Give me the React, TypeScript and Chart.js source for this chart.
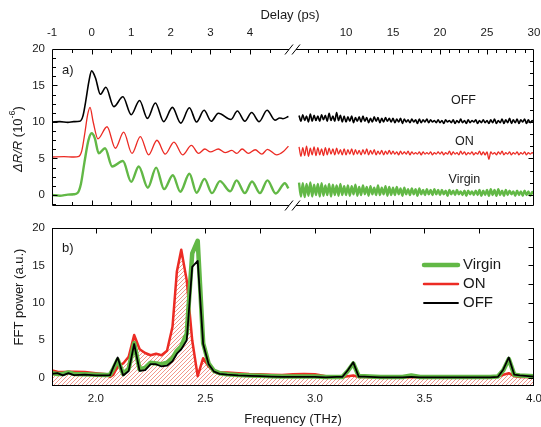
import React, { useEffect, useRef } from "react";
import { Chart, registerables } from "chart.js";

Chart.register(...registerables);

const FONT = '"Liberation Sans", Arial, Helvetica, sans-serif';
const TEXT = "#1a1a1a";
const GREEN = "#62b846";
const RED = "#ec2b24";
const BLACK = "#000000";

// ---------------- Panel a: ΔR/R (10^-6) vs delay (ps) ----------------
// short-delay part (extrema)
const OFF_DELAY = [-1.0, -0.8, -0.6, -0.45, -0.3, -0.22, -0.15, -0.07, 0.0, 0.1, 0.22, 0.36, 0.56, 0.79, 1.0, 1.21, 1.41, 1.61, 1.82, 2.04, 2.25, 2.47, 2.65, 2.84, 3.02, 3.2, 3.52, 3.68, 3.87, 4.04, 4.23, 4.43, 4.63, 4.75, 4.83, 4.97];
const OFF_SIGNAL = [10.0, 10.05, 9.95, 10.05, 10.1, 10.8, 12.8, 15.5, 17.0, 16.0, 13.8, 14.75, 12.1, 13.45, 11.0, 12.95, 10.5, 12.6, 10.05, 12.0, 9.85, 11.95, 10.0, 11.6, 10.1, 11.2, 10.35, 11.5, 10.1, 11.3, 10.05, 11.6, 10.25, 10.55, 10.45, 10.75];

const ON_DELAY = [-1.0, -0.7, -0.45, -0.32, -0.25, -0.17, -0.1, -0.04, 0.04, 0.16, 0.39, 0.6, 0.81, 1.02, 1.23, 1.44, 1.65, 1.86, 2.08, 2.3, 2.52, 2.7, 2.86, 3.0, 3.2, 3.37, 3.54, 3.67, 3.8, 3.96, 4.13, 4.3, 4.44, 4.67, 4.85, 4.97];
const ON_SIGNAL = [5.2, 5.25, 5.2, 5.3, 6.0, 8.5, 11.0, 12.0, 10.0, 7.7, 9.35, 6.4, 8.6, 5.7, 8.0, 5.5, 7.5, 5.6, 7.25, 5.5, 6.8, 5.7, 6.3, 5.9, 6.3, 5.8, 6.1, 5.7, 6.3, 5.7, 6.2, 5.6, 6.25, 5.5, 6.0, 6.7];

const VIRGIN_DELAY = [-1.0, -0.8, -0.6, -0.45, -0.35, -0.27, -0.18, -0.08, 0.0, 0.08, 0.18, 0.34, 0.52, 0.79, 1.0, 1.19, 1.42, 1.63, 1.83, 2.05, 2.24, 2.47, 2.65, 2.85, 3.04, 3.24, 3.5, 3.66, 3.87, 4.05, 4.25, 4.44, 4.65, 4.88, 4.97];
const VIRGIN_SIGNAL = [0.0, -0.1, 0.05, 0.1, 0.3, 1.5, 4.5, 7.5, 8.45, 7.8, 5.7, 6.4, 3.9, 4.65, 1.8, 3.9, 1.0, 3.75, 0.8, 2.7, 0.45, 2.9, 0.3, 2.2, 0.25, 1.9, 0.5, 2.0, 0.25, 1.85, 0.25, 2.0, 0.2, 1.6, 0.9];

// long-delay part: samples every 0.2 ps from 5 ps to 30 ps
const LONG_START = 5.0;
const LONG_STEP = 0.2;
const OFF_LONG = [
  10.9, 10.1, 11.0, 10.2, 10.8, 10.0, 11.1, 10.1, 10.9, 10.2, 10.8, 10.1, 11.0, 10.3, 10.9, 10.1, 11.2, 10.2, 10.8, 10.1, 11.3, 10.2, 10.9, 10.0, 10.8,
  10.0, 10.7, 10.1, 10.8, 9.9, 10.6, 10.1, 10.7, 10.0, 10.8, 10.1, 10.6, 9.9, 10.5, 10.0, 10.7, 10.1, 10.6, 9.9, 10.5, 10.0, 10.6, 10.1, 10.5, 10.0,
  10.5, 9.9, 10.4, 10.0, 10.5, 9.8, 10.4, 10.0, 10.3, 9.9, 10.4, 10.0, 10.3, 9.8, 10.4, 9.9, 10.3, 10.0, 10.4, 9.9, 10.3, 10.0, 10.2, 9.9, 10.3,
  9.9, 10.2, 9.8, 10.3, 10.0, 10.2, 9.9, 10.3, 9.8, 10.2, 9.9, 10.4, 9.9, 10.2, 9.8, 10.3, 9.9, 10.2, 10.0, 10.3, 9.8, 10.2, 9.9, 10.3, 9.9,
  10.2, 9.8, 10.3, 9.9, 10.4, 9.8, 10.2, 9.9, 10.4, 9.8, 10.3, 9.9, 10.5, 9.8, 10.3, 9.9, 10.4, 9.8, 10.3, 10.0, 10.4, 9.8, 10.3, 9.9, 10.2, 9.9,
];
const ON_LONG = [
  6.6, 5.3, 6.5, 5.4, 6.7, 5.3, 6.4, 5.5, 6.6, 5.4, 6.5, 5.5, 6.3, 5.4, 6.5, 5.5, 6.4, 5.6, 6.3, 5.5, 6.4, 5.6, 6.2, 5.5, 6.3,
  5.5, 6.2, 5.6, 6.3, 5.5, 6.2, 5.6, 6.1, 5.5, 6.2, 5.6, 6.3, 5.5, 6.1, 5.6, 6.2, 5.5, 6.0, 5.6, 6.1, 5.5, 6.0, 5.6, 6.1, 5.6,
  6.0, 5.6, 5.9, 5.5, 6.0, 5.6, 5.9, 5.6, 6.0, 5.5, 5.9, 5.6, 5.8, 5.6, 5.9, 5.5, 5.9, 5.6, 5.8, 5.6, 5.9, 5.5, 5.8, 5.6, 5.9,
  5.6, 5.9, 5.5, 5.8, 5.6, 6.0, 5.5, 5.9, 5.6, 5.8, 5.5, 6.0, 5.6, 5.9, 5.5, 5.8, 5.6, 5.9, 5.5, 5.8, 5.6, 6.0, 5.5, 5.9, 5.5,
  5.9, 4.9, 5.9, 5.6, 5.8, 5.5, 5.9, 5.6, 6.0, 5.5, 5.8, 5.6, 5.9, 5.5, 5.8, 5.6, 5.9, 5.5, 5.8, 5.6, 5.9, 5.5, 5.8, 5.6, 5.8, 5.6,
];
const VIRGIN_LONG = [
  1.7, -0.2, 1.6, -0.3, 1.5, -0.1, 1.7, -0.2, 1.4, 0.0, 1.5, -0.2, 1.6, -0.1, 1.3, 0.0, 1.5, -0.2, 1.4, 0.0, 1.3, -0.1, 1.5, 0.0, 1.2,
  0.0, 1.3, -0.1, 1.2, 0.1, 1.4, -0.1, 1.1, 0.0, 1.3, 0.1, 1.1, -0.1, 1.2, 0.1, 1.0, 0.0, 1.3, 0.0, 1.0, 0.1, 1.2, -0.1, 1.1, 0.0,
  1.0, 0.0, 1.1, 0.1, 0.9, -0.1, 1.0, 0.1, 0.8, 0.0, 0.9, 0.1, 0.8, -0.1, 0.9, 0.1, 0.7, 0.0, 0.8, 0.1, 0.7, 0.0, 0.8, 0.1, 0.7,
  0.0, 0.7, 0.1, 0.6, -0.1, 0.7, 0.1, 0.6, 0.0, 0.7, 0.1, 0.5, 0.0, 0.6, -0.1, 0.6, 0.1, 0.5, 0.0, 0.6, 0.0, 0.7, -0.1, 0.6, 0.0,
  0.7, -0.1, 0.8, 0.0, 0.7, -0.1, 0.8, 0.0, 0.6, -0.1, 0.7, 0.0, 0.6, 0.1, 0.5, -0.1, 0.6, 0.0, 0.5, -0.1, 0.6, 0.0, 0.5, -0.1, 0.4, 0.1,
];

const A_Y_TICKS = [0, 5, 10, 15, 20];
const A_NEAR_TICKS = [-1, 0, 1, 2, 3, 4];
const A_FAR_TICKS = [10, 15, 20, 25, 30];
const A_CURVE_LABELS = [
  { text: "OFF", t: 22.5, y: 13.0 },
  { text: "ON", t: 22.6, y: 7.3 },
  { text: "Virgin", t: 22.6, y: 2.1 },
];

// ---------------- Panel b: FFT power vs frequency ----------------
const FREQ = [1.8, 1.825, 1.85, 1.875, 1.9, 1.95, 2.0, 2.05, 2.065, 2.08,
  2.1, 2.125, 2.15, 2.175, 2.2, 2.225, 2.25, 2.275, 2.3, 2.325,
  2.35, 2.37, 2.39, 2.415, 2.44, 2.465, 2.49, 2.515, 2.54, 2.565,
  2.6, 2.65, 2.7, 2.75, 2.8, 2.85, 2.9, 2.95, 3.0, 3.05,
  3.1, 3.125, 3.15, 3.175, 3.2, 3.225, 3.3, 3.4, 3.44, 3.48,
  3.6, 3.7, 3.8, 3.835, 3.86, 3.885, 3.91, 3.935, 4.0];
const OFF_FFT = [0.5, 0.6, 0.3, 0.6, 0.35, 0.4, 0.3, 0.3, 0.35, 1.4,
  2.7, 0.3, 0.9, 4.5, 0.9, 1.0, 1.8, 1.8, 1.5, 1.6,
  2.2, 3.2, 3.8, 5.0, 14.8, 15.6, 4.5, 1.8, 0.8, 0.5,
  0.4, 0.3, 0.25, 0.2, 0.15, 0.1, 0.1, 0.1, 0.1, 0.05,
  0.1, 0.1, 1.0, 2.05, 0.15, 0.15, 0.05, 0.05, 0.1, 0.05,
  0.05, 0.05, 0.05, 0.1, 1.1, 2.7, 0.4, 0.3, 0.15];
const VIRGIN_FFT = [0.6, 0.5, 0.5, 0.7, 0.5, 0.45, 0.4, 0.35, 0.4, 1.2,
  2.4, 0.5, 1.2, 4.6, 1.1, 1.3, 2.0, 1.9, 1.8, 2.0,
  2.6, 3.6, 4.2, 5.9, 16.6, 18.3, 4.6, 1.9, 0.9, 0.6,
  0.45, 0.35, 0.3, 0.25, 0.2, 0.15, 0.15, 0.15, 0.15, 0.1,
  0.1, 0.1, 0.9, 1.9, 0.2, 0.2, 0.1, 0.1, 0.3, 0.1,
  0.1, 0.1, 0.1, 0.15, 1.0, 2.5, 0.4, 0.3, 0.2];
const ON_FFT = [0.95, 0.8, 0.75, 0.8, 0.8, 0.75, 0.6, 0.45, 0.1, 0.4,
  1.5, 1.9, 2.8, 5.7, 3.8, 3.3, 3.0, 3.2, 3.0, 3.6,
  6.8, 14.2, 17.1, 13.0, 5.0, 0.2, 2.6, 1.5, 0.8, 0.7,
  0.7, 0.6, 0.5, 0.45, 0.4, 0.35, 0.45, 0.5, 0.45, 0.2,
  0.1, 0.1, 0.2, 0.3, 0.1, 0.1, 0.05, 0.05, 0.05, 0.05,
  0.05, 0.05, 0.05, 0.15, 0.4, 0.6, 0.2, 0.1, 0.05];
const B_X_TICKS = [2.0, 2.5, 3.0, 3.5, 4.0];
const B_Y_TICKS = [0, 5, 10, 15, 20];
const LEGEND_ORDER = ["Virgin", "ON", "OFF"];

// ---------------- broken delay axis (virtual coordinate) ----------------
const U_MIN = -1;
const U_MAX = 11.17;
const U_AT_10PS = 6.424;
const FAR_SCALE = (U_MAX - U_AT_10PS) / 20;
const BREAK_U = 5.06;
const nearU = (t: number) => t;
const farU = (t: number) => U_AT_10PS + (t - 10) * FAR_SCALE;

function buildDelaySeries(delay: number[], signal: number[], long: number[]) {
  const pts: { x: number; y: number | null }[] = delay.map((t, i) => ({ x: nearU(t), y: signal[i] }));
  pts.push({ x: BREAK_U, y: null });
  long.forEach((v, i) => pts.push({ x: farU(LONG_START + i * LONG_STEP), y: v }));
  return pts;
}

function seg(ctx: CanvasRenderingContext2D, x1: number, y1: number, x2: number, y2: number) {
  ctx.beginPath();
  ctx.moveTo(x1, y1);
  ctx.lineTo(x2, y2);
  ctx.stroke();
}

function text(ctx: CanvasRenderingContext2D, s: string, x: number, y: number, size: number, align: CanvasTextAlign = "center", style = "") {
  ctx.font = `${style} ${size}px ${FONT}`.trim();
  ctx.fillStyle = TEXT;
  ctx.textAlign = align;
  ctx.textBaseline = "middle";
  ctx.fillText(s, x, y);
}

const panelAPlugin = {
  id: "panelA",
  afterDatasetsDraw(chart: any) {
    const { ctx, chartArea: a, scales } = chart;
    const xs = scales.x, ys = scales.y;
    const L = Math.round(a.left) + 0.5, R = Math.round(a.right) - 0.5;
    const T = Math.round(a.top) + 0.5, B = Math.round(a.bottom) - 0.5;
    ctx.save();
    ctx.strokeStyle = "#000";
    ctx.lineWidth = 1;
    const bx = xs.getPixelForValue(BREAK_U);
    const g1 = bx - 3, g2 = bx + 4;
    seg(ctx, L, T, L, B);
    seg(ctx, R, T, R, B);
    for (const y of [T, B]) {
      seg(ctx, L, y, g1, y);
      seg(ctx, g2, y, R, y);
      seg(ctx, g1 - 4, y + 5, g1 + 4, y - 5);
      seg(ctx, g2 - 4, y + 5, g2 + 4, y - 5);
    }
    const xt: { px: number; major: boolean }[] = [];
    for (let v = -0.5; v <= 4.51; v += 0.5) xt.push({ px: xs.getPixelForValue(nearU(v)), major: Math.abs(v - Math.round(v)) < 1e-6 });
    for (let v = 6; v < 30; v += 1) xt.push({ px: xs.getPixelForValue(farU(v)), major: v % 5 === 0 });
    for (const t of xt) {
      const x = Math.round(t.px) + 0.5;
      const len = t.major ? 5 : 3.5;
      seg(ctx, x, T, x, T + len);
      seg(ctx, x, B, x, B - len);
    }
    for (let k = -1; k <= 15; k++) {
      const v = k * 1.25;
      const y = Math.round(ys.getPixelForValue(v)) + 0.5;
      if (y <= T + 0.1 || y >= B - 0.1) continue;
      seg(ctx, L, y, L + (v % 5 === 0 ? 5 : 3.5), y);
    }
    for (let k = 1; k <= 12; k++) {
      const v = 20 - (k * 5) / 3;
      const y = Math.round(ys.getPixelForValue(v)) + 0.5;
      const major = Math.abs(v / 5 - Math.round(v / 5)) < 1e-6;
      seg(ctx, R, y, R - (major ? 5 : 3.5), y);
    }
    for (const v of A_NEAR_TICKS) text(ctx, String(v), xs.getPixelForValue(nearU(v)), 33, 11.5);
    for (const v of A_FAR_TICKS) text(ctx, String(v), xs.getPixelForValue(farU(v)), 33, 11.5);
    for (const v of A_Y_TICKS) text(ctx, String(v), 45, ys.getPixelForValue(v), 11.5, "right");
    text(ctx, "Delay (ps)", 290, 15, 13);
    text(ctx, "a)", 62, 70, 13, "left");
    for (const lb of A_CURVE_LABELS) text(ctx, lb.text, xs.getPixelForValue(farU(lb.t)), ys.getPixelForValue(lb.y), 12.5);
    ctx.translate(18, 139);
    ctx.rotate(-Math.PI / 2);
    const parts = [
      { s: "\u0394R/R", f: `italic 13px ${FONT}`, dy: 0 },
      { s: " (10", f: `13px ${FONT}`, dy: 0 },
      { s: "-6", f: `9px ${FONT}`, dy: -5 },
      { s: ")", f: `13px ${FONT}`, dy: 0 },
    ];
    let w = 0;
    for (const p of parts) { ctx.font = p.f; w += ctx.measureText(p.s).width; }
    let x = -w / 2;
    ctx.fillStyle = TEXT;
    ctx.textAlign = "left";
    ctx.textBaseline = "middle";
    for (const p of parts) { ctx.font = p.f; ctx.fillText(p.s, x, p.dy); x += ctx.measureText(p.s).width; }
    ctx.restore();
  },
};

const panelBPlugin = {
  id: "panelB",
  afterDatasetsDraw(chart: any) {
    const { ctx, chartArea: a, scales } = chart;
    const xs = scales.x, ys = scales.y;
    const L = Math.round(a.left) + 0.5, R = Math.round(a.right) - 0.5;
    const T = Math.round(a.top) + 0.5, B = Math.round(a.bottom) - 0.5;
    ctx.save();
    ctx.strokeStyle = "#000";
    ctx.lineWidth = 1;
    ctx.strokeRect(L, T, R - L, B - T);
    for (let k = 0; k < 8; k++) {
      const x = Math.round(xs.getPixelForValue(2.0 + k * 0.25)) + 0.5;
      seg(ctx, x, T, x, T + 5);
    }
    for (let k = 0; k < 8; k++) {
      const y = Math.round(ys.getPixelForValue(k * 2.5)) + 0.5;
      seg(ctx, R, y, R - 5, y);
    }
    for (const v of B_X_TICKS) text(ctx, v.toFixed(1), xs.getPixelForValue(v), 184, 11.5);
    for (const v of B_Y_TICKS) text(ctx, String(v), 45, ys.getPixelForValue(v), 11.5, "right");
    text(ctx, "Frequency (THz)", 293, 204, 13);
    text(ctx, "b)", 62, 33, 13, "left");
    const rows = [50, 69, 88];
    LEGEND_ORDER.forEach((name, i) => {
      const ds = chart.data.datasets.find((d: any) => d.label === name);
      ctx.strokeStyle = ds.borderColor;
      ctx.lineWidth = ds.borderWidth;
      ctx.lineCap = "round";
      seg(ctx, 424, rows[i], 458, rows[i]);
      text(ctx, name, 463, rows[i], 15, "left");
    });
    ctx.translate(19, 82);
    ctx.rotate(-Math.PI / 2);
    text(ctx, "FFT power (a.u.)", 0, 0, 13);
    ctx.restore();
  },
};

export default function App() {
  const refA = useRef<HTMLCanvasElement>(null);
  const refB = useRef<HTMLCanvasElement>(null);

  useEffect(() => {
    const common = {
      animation: false as const,
      responsive: false,
      devicePixelRatio: 1,
      events: [] as any[],
      plugins: { legend: { display: false }, tooltip: { enabled: false } },
      elements: { point: { radius: 0 } },
    };

    const chartA = new Chart(refA.current!, {
      type: "line",
      data: {
        datasets: [
          { label: "OFF", data: buildDelaySeries(OFF_DELAY, OFF_SIGNAL, OFF_LONG) as any, borderColor: BLACK, borderWidth: 1.6, cubicInterpolationMode: "monotone", fill: false },
          { label: "ON", data: buildDelaySeries(ON_DELAY, ON_SIGNAL, ON_LONG) as any, borderColor: RED, borderWidth: 1.3, cubicInterpolationMode: "monotone", fill: false },
          { label: "Virgin", data: buildDelaySeries(VIRGIN_DELAY, VIRGIN_SIGNAL, VIRGIN_LONG) as any, borderColor: GREEN, borderWidth: 2.4, cubicInterpolationMode: "monotone", fill: false },
        ],
      },
      options: {
        ...common,
        layout: { padding: { left: 52, right: 7, top: 49, bottom: 9 } },
        scales: {
          x: { type: "linear", display: false, min: U_MIN, max: U_MAX },
          y: { type: "linear", display: false, min: -1.51, max: 20 },
        },
      },
      plugins: [panelAPlugin],
    } as any);

    const pc = document.createElement("canvas");
    pc.width = 4;
    pc.height = 4;
    const p = pc.getContext("2d")!;
    p.strokeStyle = "rgba(236,90,70,0.7)";
    p.lineWidth = 0.9;
    p.beginPath();
    p.moveTo(0, 4); p.lineTo(4, 0);
    p.moveTo(-1, 1); p.lineTo(1, -1);
    p.moveTo(3, 5); p.lineTo(5, 3);
    p.stroke();
    const hatch = refB.current!.getContext("2d")!.createPattern(pc, "repeat");

    const toPts = (vals: number[]) => FREQ.map((f, i) => ({ x: f, y: vals[i] }));
    const chartB = new Chart(refB.current!, {
      type: "line",
      data: {
        datasets: [
          { label: "OFF", data: toPts(OFF_FFT), borderColor: BLACK, borderWidth: 1.8, borderJoinStyle: "round", tension: 0, fill: false },
          { label: "Virgin", data: toPts(VIRGIN_FFT), borderColor: GREEN, borderWidth: 4.5, borderJoinStyle: "round", tension: 0, fill: false },
          { label: "ON", data: toPts(ON_FFT), borderColor: RED, borderWidth: 2.5, borderJoinStyle: "round", tension: 0, fill: "start", backgroundColor: hatch },
        ],
      },
      options: {
        ...common,
        layout: { padding: { left: 52, right: 7, top: 13, bottom: 41 } },
        scales: {
          x: { type: "linear", display: false, min: 1.8, max: 4.0 },
          y: { type: "linear", display: false, min: -1.11, max: 20 },
        },
      },
      plugins: [panelBPlugin],
    } as any);

    return () => {
      chartA.destroy();
      chartB.destroy();
    };
  }, []);

  return (
    <div style={{ position: "absolute", left: 0, top: 0, width: 541, height: 427, background: "#fff" }}>
      <canvas ref={refA} width={541} height={215} style={{ position: "absolute", left: 0, top: 0, width: 541, height: 215 }} />
      <canvas ref={refB} width={541} height={212} style={{ position: "absolute", left: 0, top: 215, width: 541, height: 212 }} />
    </div>
  );
}
